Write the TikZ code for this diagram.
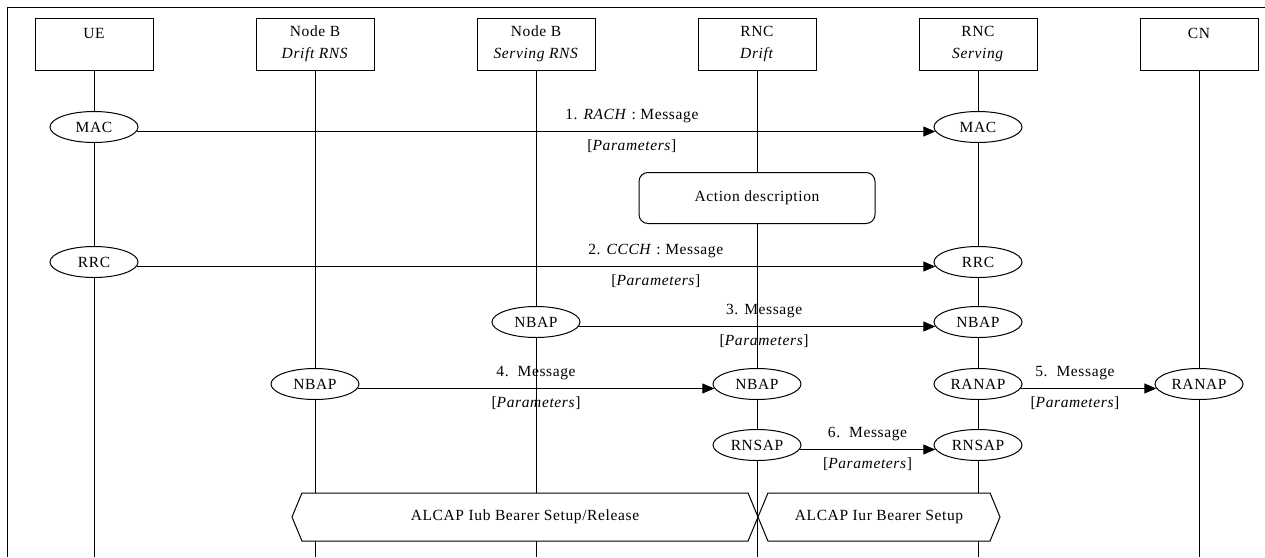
\documentclass[tikz,border=0pt]{standalone}
\usepackage{fontspec}
\setmainfont{Liberation Serif}[LetterSpace=4]
\usetikzlibrary{arrows.meta, positioning, shapes.geometric, shapes.symbols}

\begin{document}
\begin{tikzpicture}[
      x=1pt, y=-1pt, node distance=221pt, on grid, >={Triangle[length=12pt,width=10pt]},
      font=\fontsize{15.5pt}{22pt}\selectfont, line width=1pt,
      every node/.style={inner sep=0pt},
      entity/.style={draw, rectangle, minimum width=118pt, minimum height=52pt, align=center},
      proto/.style={draw, ellipse, fill=white, minimum width=88pt, minimum height=31pt},
      action/.style={draw, rounded corners=9pt, fill=white, minimum width=236pt, minimum height=51pt},
      bearer/.style={draw, signal, signal to=west and east, signal pointer angle=135, fill=white, minimum height=48pt},
      ]
      \useasboundingbox (0,0) rectangle (1265,557);
      \draw (7,557) -- (7,7) -- (1265,7);

      \node[entity]            (ue)    at (94,44)         {UE\\\mbox{}};
      \node[entity]            (nb_d)  [right=of ue]      {Node B\\\textit{Drift RNS}};
      \node[entity]            (nb_s)  [right=of nb_d]    {Node B\\\textit{Serving RNS}};
      \node[entity]            (rnc_d) [right=of nb_s]    {RNC\\\textit{Drift}};
      \node[entity]            (rnc_s) [right=of rnc_d]   {RNC\\\textit{Serving}};
      \node[entity]            (cn)    [right=of rnc_s]   {CN\\\mbox{}};
      \foreach \n in {ue,nb_d,nb_s,rnc_d,rnc_s,cn}
        \draw (\n.south) -- (\n |- 0,557);

      \node[proto]  (mac_ue)    at (ue |- 0,127)    {MAC};
      \node[proto]  (mac_rs)    at (rnc_s |- 0,127) {MAC};
      \node[action] (act)       at (rnc_d |- 0,198) {Action description};
      \node[proto]  (rrc_ue)    at (ue |- 0,262)    {RRC};
      \node[proto]  (rrc_rs)    at (rnc_s |- 0,262) {RRC};
      \node[proto]  (nbap_s)    at (nb_s |- 0,322)  {NBAP};
      \node[proto]  (nbap_rs)   at (rnc_s |- 0,322) {NBAP};
      \node[proto]  (nbap_d)    at (nb_d |- 0,384)  {NBAP};
      \node[proto]  (nbap_rd)   at (rnc_d |- 0,384) {NBAP};
      \node[proto]  (ranap_rs)  at (rnc_s |- 0,384) {RANAP};
      \node[proto]  (ranap_cn)  at (cn |- 0,384)    {RANAP};
      \node[proto]  (rnsap_rd)  at (rnc_d |- 0,445) {RNSAP};
      \node[proto]  (rnsap_rs)  at (rnc_s |- 0,445) {RNSAP};

      \path[->] (mac_ue.-6) edge node[pos=.62, yshift=15pt] {1. \textit{RACH} : Message}
                                 node[pos=.62, yshift=-15pt] {[\textit{Parameters}]} (mac_rs.186);
      \path[->] (rrc_ue.-6) edge node[pos=.65, yshift=15pt] {2. \textit{CCCH} : Message}
                                 node[pos=.65, yshift=-15pt] {[\textit{Parameters}]} (rrc_rs.186);
      \path[->] (nbap_s.-6) edge node[pos=.52, yshift=15pt] {3. Message}
                                 node[pos=.52, yshift=-15pt] {[\textit{Parameters}]} (nbap_rs.186);
      \path[->] (nbap_d.-6) edge node[yshift=15pt] {4.\ \ Message}
                                 node[yshift=-15pt] {[\textit{Parameters}]} (nbap_rd.186);
      \path[->] (ranap_rs.-6) edge node[pos=.4, yshift=15pt] {5.\ \ Message}
                                   node[pos=.4, yshift=-15pt] {[\textit{Parameters}]} (ranap_cn.186);
      \path[->] (rnsap_rd.-6) edge node[yshift=15pt] {6.\ \ Message}
                                   node[yshift=-15pt] {[\textit{Parameters}]} (rnsap_rs.186);

      \node[bearer, minimum width=466pt] (iub) at (525,517) {ALCAP Iub Bearer Setup/Release};
      \node[bearer, minimum width=242pt] (iur) at (879,517) {ALCAP Iur Bearer Setup};
    \end{tikzpicture}
\end{document}
